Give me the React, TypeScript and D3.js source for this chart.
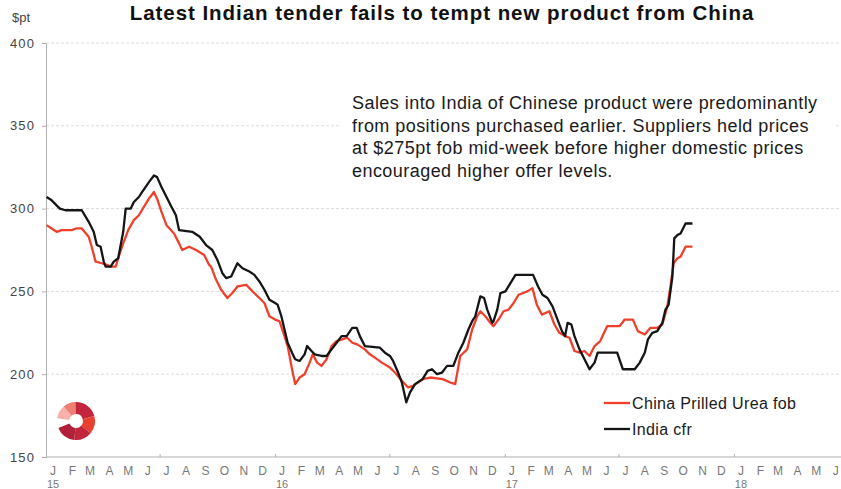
import React, { useEffect, useRef } from 'react';
import * as d3 from 'd3';

// China Prilled Urea fob, $pt (weekly-ish readings)
const chinaFob: [string, number][] = [
  ["2015-01-02", 290], ["2015-01-10", 288], ["2015-01-18", 286], ["2015-01-26", 287], ["2015-02-04", 287],
  ["2015-02-11", 287], ["2015-02-18", 288], ["2015-02-27", 288], ["2015-03-10", 283], ["2015-03-14", 278],
  ["2015-03-21", 268], ["2015-03-31", 267], ["2015-04-08", 266], ["2015-04-15", 265], ["2015-04-22", 265],
  ["2015-04-26", 270], ["2015-05-04", 279], ["2015-05-12", 287], ["2015-05-21", 293], ["2015-05-29", 296],
  ["2015-06-06", 301], ["2015-06-14", 306], ["2015-06-22", 310], ["2015-06-27", 306], ["2015-07-04", 298],
  ["2015-07-12", 290], ["2015-07-24", 285], ["2015-08-01", 279], ["2015-08-06", 275], ["2015-08-17", 277],
  ["2015-08-28", 275], ["2015-09-10", 272], ["2015-09-18", 266], ["2015-09-21", 265], ["2015-09-29", 257],
  ["2015-10-07", 251], ["2015-10-17", 246], ["2015-10-25", 249], ["2015-11-02", 253], ["2015-11-16", 254],
  ["2015-11-26", 250], ["2015-12-07", 246], ["2015-12-15", 243], ["2015-12-23", 235], ["2016-01-01", 233],
  ["2016-01-08", 232], ["2016-01-16", 223], ["2016-01-21", 217], ["2016-01-28", 203], ["2016-02-02", 194],
  ["2016-02-09", 198], ["2016-02-17", 200], ["2016-02-25", 207], ["2016-03-01", 212], ["2016-03-08", 207],
  ["2016-03-15", 205], ["2016-03-23", 209], ["2016-03-31", 217], ["2016-04-08", 220], ["2016-04-17", 221],
  ["2016-04-25", 222], ["2016-05-03", 219], ["2016-05-11", 218], ["2016-05-23", 215], ["2016-05-31", 212],
  ["2016-06-08", 210], ["2016-06-19", 207], ["2016-07-02", 204], ["2016-07-10", 201], ["2016-07-21", 196],
  ["2016-07-31", 192], ["2016-08-08", 193], ["2016-08-23", 197], ["2016-09-04", 198], ["2016-09-24", 197],
  ["2016-10-06", 195], ["2016-10-14", 194], ["2016-10-22", 211], ["2016-11-02", 215], ["2016-11-10", 227],
  ["2016-11-18", 235], ["2016-11-23", 238], ["2016-12-01", 235], ["2016-12-09", 231], ["2016-12-14", 229],
  ["2016-12-22", 233], ["2016-12-30", 238], ["2017-01-07", 239], ["2017-01-15", 243], ["2017-01-23", 248],
  ["2017-02-06", 250], ["2017-02-14", 252], ["2017-02-21", 242], ["2017-03-01", 236], ["2017-03-13", 238],
  ["2017-03-21", 230], ["2017-03-29", 225], ["2017-04-07", 223], ["2017-04-14", 222], ["2017-04-22", 214],
  ["2017-04-30", 213], ["2017-05-08", 214], ["2017-05-16", 211], ["2017-05-24", 217], ["2017-06-02", 220],
  ["2017-06-13", 229], ["2017-07-03", 229], ["2017-07-11", 233], ["2017-07-24", 233], ["2017-08-01", 226],
  ["2017-08-12", 224], ["2017-08-21", 228], ["2017-09-01", 228], ["2017-09-09", 230], ["2017-09-17", 241],
  ["2017-09-22", 253], ["2017-09-27", 267], ["2017-10-03", 270], ["2017-10-08", 271], ["2017-10-16", 277],
  ["2017-10-27", 277]
];

// India cfr, $pt
const indiaCfr: [string, number][] = [
  ["2015-01-02", 307], ["2015-01-10", 305], ["2015-01-23", 300], ["2015-02-01", 299], ["2015-02-27", 299],
  ["2015-03-10", 292], ["2015-03-18", 286], ["2015-03-23", 278], ["2015-03-29", 277], ["2015-04-03", 268],
  ["2015-04-06", 265], ["2015-04-14", 265], ["2015-04-19", 268], ["2015-04-26", 270], ["2015-05-04", 286],
  ["2015-05-08", 300], ["2015-05-16", 300], ["2015-05-21", 304], ["2015-05-29", 307], ["2015-06-03", 310],
  ["2015-06-14", 316], ["2015-06-22", 320], ["2015-06-27", 319], ["2015-07-04", 313], ["2015-07-12", 307],
  ["2015-07-20", 301], ["2015-07-27", 296], ["2015-08-01", 287], ["2015-08-22", 286], ["2015-09-03", 283],
  ["2015-09-13", 278], ["2015-09-23", 275], ["2015-10-01", 269], ["2015-10-09", 261], ["2015-10-15", 258],
  ["2015-10-23", 259], ["2015-11-02", 267], ["2015-11-10", 264], ["2015-11-21", 262], ["2015-11-29", 260],
  ["2015-12-07", 256], ["2015-12-15", 251], ["2015-12-23", 245], ["2016-01-01", 243], ["2016-01-05", 242],
  ["2016-01-11", 235], ["2016-01-16", 227], ["2016-01-21", 219], ["2016-01-28", 213], ["2016-02-02", 209],
  ["2016-02-09", 208], ["2016-02-17", 212], ["2016-02-21", 217], ["2016-02-28", 214], ["2016-03-04", 212],
  ["2016-03-15", 211], ["2016-03-23", 211], ["2016-03-31", 215], ["2016-04-08", 219], ["2016-04-16", 223],
  ["2016-04-24", 223], ["2016-05-03", 228], ["2016-05-10", 228], ["2016-05-15", 223], ["2016-05-23", 217],
  ["2016-06-16", 216], ["2016-06-24", 213], ["2016-07-02", 211], ["2016-07-07", 208], ["2016-07-15", 201],
  ["2016-07-21", 195], ["2016-07-28", 183], ["2016-08-03", 189], ["2016-08-11", 194], ["2016-08-23", 197],
  ["2016-08-31", 202], ["2016-09-07", 203], ["2016-09-15", 200], ["2016-09-23", 201], ["2016-10-01", 205],
  ["2016-10-11", 205], ["2016-10-19", 213], ["2016-10-27", 219], ["2016-11-04", 227], ["2016-11-10", 232],
  ["2016-11-15", 235], ["2016-11-23", 247], ["2016-11-29", 246], ["2016-12-04", 239], ["2016-12-12", 231],
  ["2016-12-14", 232], ["2016-12-20", 239], ["2016-12-25", 249], ["2017-01-02", 250], ["2017-01-10", 255],
  ["2017-01-18", 260], ["2017-02-15", 260], ["2017-02-23", 253], ["2017-03-02", 248], ["2017-03-10", 246],
  ["2017-03-18", 241], ["2017-03-26", 233], ["2017-04-02", 226], ["2017-04-07", 223], ["2017-04-11", 231],
  ["2017-04-17", 230], ["2017-04-22", 223], ["2017-04-30", 215], ["2017-05-08", 209], ["2017-05-16", 203],
  ["2017-05-24", 207], ["2017-05-29", 213], ["2017-06-29", 213], ["2017-07-08", 203], ["2017-07-27", 203],
  ["2017-08-04", 207], ["2017-08-12", 213], ["2017-08-17", 221], ["2017-08-24", 225], ["2017-09-01", 226],
  ["2017-09-09", 231], ["2017-09-14", 239], ["2017-09-19", 242], ["2017-09-25", 259], ["2017-09-28", 282],
  ["2017-10-03", 284], ["2017-10-08", 285], ["2017-10-16", 291], ["2017-10-27", 291]
];

const yTicks = [150, 200, 250, 300, 350, 400];
const monthLetters = ["J", "F", "M", "A", "M", "J", "J", "A", "S", "O", "N", "D"];
const yearLabels = ["15", "16", "17", "18"];

const title = "Latest Indian tender fails to tempt new product from China";
const noteLines = [
  "Sales into India of Chinese product were predominantly",
  "from positions purchased earlier. Suppliers held prices",
  "at $275pt fob mid-week before higher domestic prices",
  "encouraged higher offer levels."
];

const series = [
  { name: "China Prilled Urea fob", data: chinaFob, color: "#f0402c" },
  { name: "India cfr", data: indiaCfr, color: "#151515" }
];

const FONT = "'Liberation Sans', Arial, sans-serif";

const App = () => {
  const svgRef = useRef<SVGSVGElement>(null);
  const W = 841;
  const H = 489;

  useEffect(() => {
    const svg = d3.select(svgRef.current);
    svg.selectAll("*").remove();

    const parse = d3.timeParse("%Y-%m-%d");
    const x = d3.scaleTime()
      .domain([new Date(2015, 0, 1), new Date(2018, 6, 1)])
      .range([46, 847.5]);
    const y = d3.scaleLinear().domain([150, 400]).range([457, 43]);

    svg.append("rect").attr("width", W).attr("height", H).attr("fill", "#fff");

    // title sits tight against the top edge
    svg.append("text")
      .attr("x", 442).attr("y", 19.5)
      .attr("text-anchor", "middle")
      .attr("font-family", FONT).attr("font-weight", "bold")
      .attr("font-size", 20.5).attr("letter-spacing", 0.95)
      .attr("fill", "#111")
      .text(title);

    svg.append("text")
      .attr("x", 12).attr("y", 22)
      .attr("font-family", FONT).attr("font-size", 13)
      .attr("fill", "#444")
      .text("$pt");

    // gridlines
    svg.append("g")
      .selectAll("line")
      .data(yTicks.filter(d => d > 150))
      .join("line")
      .attr("x1", 46).attr("x2", W)
      .attr("y1", d => y(d)).attr("y2", d => y(d))
      .attr("stroke", "#dcdcdc").attr("stroke-width", 1)
      .attr("stroke-dasharray", "3,2");

    // y axis
    const yAxis = svg.append("g").attr("transform", "translate(46,0)")
      .call(d3.axisLeft(y).tickValues(yTicks).tickSize(4).tickPadding(7));
    yAxis.select(".domain").attr("stroke", "#b0b0b0");
    yAxis.selectAll(".tick line").attr("stroke", "#b0b0b0");
    yAxis.selectAll(".tick text")
      .attr("font-family", FONT).attr("font-size", 13)
      .attr("letter-spacing", 1.1).attr("fill", "#444");

    // x axis: ticks every six months
    const halfYears = d3.timeMonth.every(6)!.range(new Date(2015, 6, 1), new Date(2018, 6, 1));
    const xAxis = svg.append("g").attr("transform", `translate(0,${y(150)})`)
      .call(d3.axisTop(x).tickValues(halfYears).tickSize(3).tickFormat(() => ""));
    xAxis.select(".domain").attr("stroke", "#b0b0b0").attr("d", `M46,0H${W}`);
    xAxis.selectAll(".tick line").attr("stroke", "#b0b0b0");

    const months = d3.timeMonth.range(new Date(2015, 0, 1), new Date(2018, 6, 1));
    svg.append("g")
      .selectAll("text")
      .data(months)
      .join("text")
      .attr("x", d => x(d) + 7)
      .attr("y", 475)
      .attr("text-anchor", "middle")
      .attr("font-family", FONT).attr("font-size", 12)
      .attr("fill", "#777")
      .text(d => monthLetters[d.getMonth()]);

    svg.append("g")
      .selectAll("text")
      .data(yearLabels)
      .join("text")
      .attr("x", d => x(new Date(2000 + +d, 0, 1)) + 7)
      .attr("y", 488)
      .attr("text-anchor", "middle")
      .attr("font-family", FONT).attr("font-size", 11)
      .attr("fill", "#777")
      .text(d => d);

    // annotation box covers the gridlines
    svg.append("rect")
      .attr("x", 340).attr("y", 86).attr("width", 494).attr("height", 102)
      .attr("fill", "#fff");
    svg.append("g")
      .selectAll("text")
      .data(noteLines)
      .join("text")
      .attr("x", 352)
      .attr("y", (d, i) => 109 + i * 22.7)
      .attr("font-family", FONT).attr("font-size", 18)
      .attr("letter-spacing", 0.45)
      .attr("fill", "#1a1a1a")
      .text(d => d);

    // lines
    const line = d3.line<[string, number]>()
      .x(d => x(parse(d[0])!))
      .y(d => y(d[1]));
    svg.append("g")
      .selectAll("path")
      .data(series)
      .join("path")
      .attr("d", d => line(d.data))
      .attr("fill", "none")
      .attr("stroke", d => d.color)
      .attr("stroke-width", 2.3)
      .attr("stroke-linejoin", "round");

    // legend
    const legend = svg.append("g")
      .selectAll("g")
      .data(series)
      .join("g")
      .attr("transform", (d, i) => `translate(604,${403 + i * 26})`);
    legend.append("line")
      .attr("x1", 0).attr("x2", 26)
      .attr("stroke", d => d.color).attr("stroke-width", 2.3);
    legend.append("text")
      .attr("x", 28).attr("dy", "0.36em")
      .attr("font-family", FONT).attr("font-size", 16)
      .attr("letter-spacing", 0.35)
      .attr("fill", "#1a1a1a")
      .text(d => d.name);

    // logo: segmented ring with a notch at the left
    const logoParts = [
      { a0: 278, a1: 320, c: "#f5b1aa" },
      { a0: 320, a1: 358, c: "#ee7d74" },
      { a0: 358, a1: 435, c: "#c2263d" },
      { a0: 435, a1: 490, c: "#e8402e" },
      { a0: 490, a1: 545, c: "#c2263d" },
      { a0: 545, a1: 608, c: "#b21f39" }
    ];
    const arc = d3.arc<any>()
      .innerRadius(7).outerRadius(19)
      .startAngle(d => (d.a0 * Math.PI) / 180)
      .endAngle(d => (d.a1 * Math.PI) / 180);
    svg.append("g")
      .attr("transform", "translate(76,421)")
      .selectAll("path")
      .data(logoParts)
      .join("path")
      .attr("d", arc)
      .attr("fill", d => d.c);
  }, []);

  return (
    <div style={{ position: "absolute", left: 0, top: 0 }}>
      <svg ref={svgRef} width={W} height={H} style={{ display: "block" }} />
    </div>
  );
};

export default App;
